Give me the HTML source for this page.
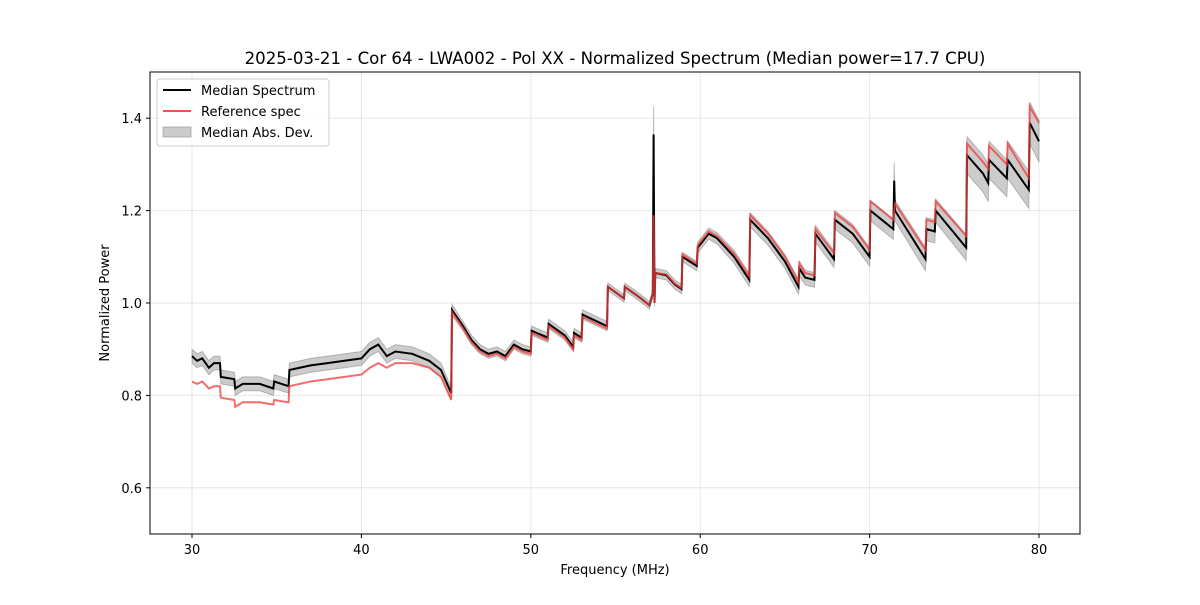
<!DOCTYPE html>
<html><head><meta charset="utf-8"><style>
body{margin:0;background:#fff;}
svg text{font-family:"DejaVu Sans","Liberation Sans",sans-serif;fill:#000;}
</style></head><body>
<svg id="chart" width="1200" height="600">
<rect width="1200" height="600" fill="#fff"/>
<text x="615" y="64" font-size="16.6" text-anchor="middle">2025-03-21 - Cor 64 - LWA002 - Pol XX - Normalized Spectrum (Median power=17.7 CPU)</text>
<g id="grid"></g>
<g id="series"></g>
<rect x="150" y="72" width="930" height="462" fill="none" stroke="#000" stroke-width="1"/>
<g id="ticks"></g>
<text x="615" y="574" font-size="13" text-anchor="middle">Frequency (MHz)</text>
<text x="109" y="303" font-size="13" text-anchor="middle" transform="rotate(-90 109 303)">Normalized Power</text>
<g>
<rect x="157" y="79" width="172" height="67" rx="3" fill="#fff" fill-opacity="0.8" stroke="#ccc"/>
<g><line x1="163" y1="90" x2="191" y2="90" stroke="#000" stroke-width="2"/><text x="201" y="95" font-size="13">Median Spectrum</text></g>
<g><line x1="163" y1="111" x2="191" y2="111" stroke="#f05050" stroke-width="2"/><text x="201" y="116" font-size="13">Reference spec</text></g>
<g><rect x="163" y="127" width="28" height="10" fill="#808080" fill-opacity="0.4" stroke="#808080" stroke-opacity="0.5"/><text x="201" y="137" font-size="13">Median Abs. Dev.</text></g>
</g>
</svg>
<script>
const freqs=[30.0,30.3,30.6,31.0,31.3,31.65,31.7,32.5,32.55,33.0,34.0,34.8,34.85,35.7,35.75,37.0,38.0,39.0,40.0,40.5,41.0,41.5,42.0,43.0,44.0,44.7,45.3,45.35,46.0,46.5,47.0,47.5,48.0,48.5,49.0,49.5,50.0,50.05,51.0,51.05,52.0,52.5,52.55,53.0,53.05,54.5,54.55,55.5,55.55,56.5,57.0,57.2,57.25,57.3,57.35,58.0,58.5,58.9,58.95,59.8,59.85,60.5,61.0,62.0,62.9,62.95,64.0,65.0,65.8,65.85,66.2,66.75,66.8,67.9,67.95,69.0,70.0,70.05,71.4,71.45,71.5,73.3,73.35,73.85,73.9,75.7,75.75,76.7,77.0,77.05,78.1,78.15,79.4,79.45,80.0];
const medianVals=[.885,.875,.880,.860,.870,.870,.840,.835,.815,.825,.825,.815,.830,.820,.855,.865,.870,.875,.880,.900,.910,.885,.895,.890,.875,.855,.805,.985,.950,.920,.900,.890,.895,.885,.910,.900,.895,.940,.925,.955,.930,.905,.935,.925,.975,.950,1.035,1.010,1.035,1.010,.995,1.020,1.365,1.000,1.065,1.060,1.040,1.030,1.100,1.080,1.120,1.150,1.140,1.100,1.050,1.180,1.140,1.090,1.035,1.075,1.055,1.050,1.150,1.095,1.180,1.150,1.100,1.200,1.160,1.265,1.200,1.095,1.160,1.155,1.200,1.120,1.320,1.280,1.260,1.310,1.270,1.310,1.245,1.390,1.350];
const refVals=[.830,.825,.830,.815,.820,.820,.795,.790,.775,.785,.785,.780,.790,.785,.820,.830,.835,.840,.845,.860,.870,.860,.870,.870,.860,.840,.790,.980,.945,.915,.895,.885,.890,.880,.905,.895,.890,.935,.920,.950,.925,.900,.930,.920,.970,.945,1.035,1.010,1.035,1.010,.995,1.020,1.190,1.000,1.065,1.062,1.042,1.032,1.105,1.085,1.125,1.155,1.145,1.107,1.058,1.190,1.150,1.100,1.045,1.085,1.065,1.060,1.160,1.108,1.195,1.165,1.115,1.220,1.180,1.200,1.215,1.115,1.180,1.175,1.220,1.145,1.345,1.305,1.290,1.340,1.300,1.345,1.270,1.425,1.390];
const madVals=[.015,.015,.015,.015,.015,.015,.015,.015,.015,.015,.015,.015,.015,.015,.015,.015,.015,.015,.015,.015,.015,.015,.015,.015,.015,.015,.012,.012,.01,.01,.01,.01,.01,.01,.01,.01,.01,.01,.01,.01,.01,.01,.01,.01,.01,.01,.008,.008,.008,.008,.008,.008,.06,.008,.01,.01,.01,.01,.01,.01,.012,.012,.012,.014,.014,.015,.015,.015,.016,.016,.016,.016,.018,.018,.02,.02,.02,.022,.022,.04,.022,.025,.025,.025,.025,.028,.04,.04,.04,.04,.04,.04,.04,.045,.045];
const xTicks=[30,40,50,60,70,80];
const yTicks=[0.6,0.8,1.0,1.2,1.4];
const X=f=>192+(f-30)*16.94;
const Y=v=>534-(v-0.5)*462;
const NS='http://www.w3.org/2000/svg';
function mk(tag,attrs,parent){const e=document.createElementNS(NS,tag);for(const k in attrs)e.setAttribute(k,attrs[k]);parent.appendChild(e);return e;}
const grid=document.getElementById('grid'),ticks=document.getElementById('ticks'),series=document.getElementById('series');
xTicks.forEach(t=>{
  const g=mk('line',{x1:X(t),x2:X(t),y1:72,y2:534,stroke:'#b0b0b0','stroke-opacity':0.3},grid);
  
  
  mk('line',{x1:X(t),x2:X(t),y1:534,y2:538,stroke:'#000'},ticks);
  const tx=mk('text',{x:X(t),y:554,'font-size':13,'text-anchor':'middle'},ticks);tx.textContent=t;
  
  
});
yTicks.forEach(t=>{
  const g=mk('line',{x1:150,x2:1080,y1:Y(t),y2:Y(t),stroke:'#b0b0b0','stroke-opacity':0.3},grid);
  
  
  mk('line',{x1:146,x2:150,y1:Y(t),y2:Y(t),stroke:'#000'},ticks);
  const tx=mk('text',{x:142,y:Y(t)+5,'font-size':13,'text-anchor':'end'},ticks);tx.textContent=t.toFixed(1);
  
  
});
const pts=a=>freqs.map((f,i)=>X(f).toFixed(1)+','+Y(a[i]).toFixed(1)).join(' ');
const up=freqs.map((f,i)=>X(f).toFixed(1)+','+Y(medianVals[i]+madVals[i]).toFixed(1));
const dn=freqs.map((f,i)=>X(f).toFixed(1)+','+Y(medianVals[i]-madVals[i]).toFixed(1)).reverse();
const band=mk('polygon',{points:up.concat(dn).join(' '),fill:'#808080','fill-opacity':0.4,stroke:'#808080','stroke-opacity':0.5,'stroke-width':1},series);


const med=mk('polyline',{points:pts(medianVals),fill:'none',stroke:'#000','stroke-width':2},series);


const ref=mk('polyline',{points:pts(refVals),fill:'none',stroke:'#f03c3c','stroke-opacity':0.75,'stroke-width':2},series);


</script>
</body></html>
